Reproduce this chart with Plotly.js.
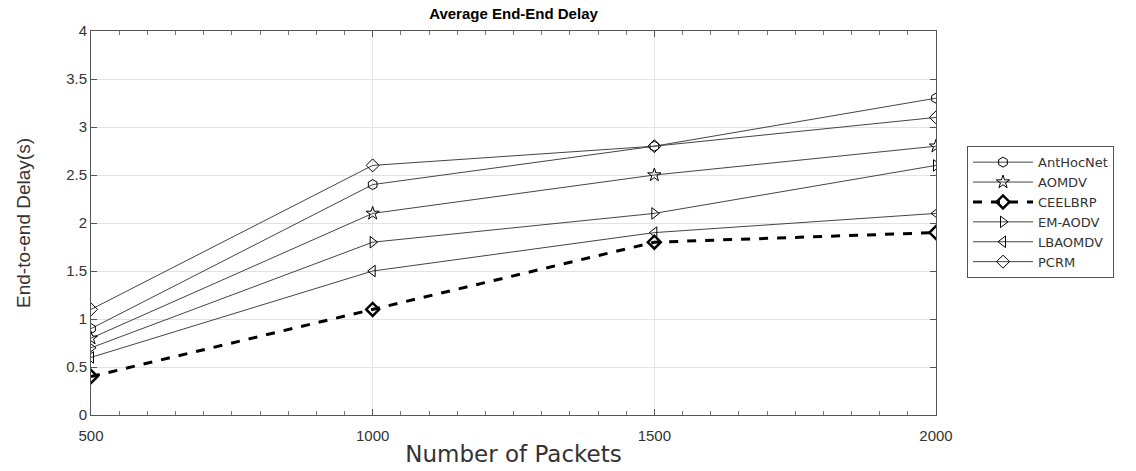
<!DOCTYPE html>
<html><head><meta charset="utf-8">
<script src="https://cdn.plot.ly/plotly-3.0.1.min.js"></script>
<style>body{margin:0;background:#fff}#c{width:1136px;height:471px}</style>
</head><body><div id="c"></div>
<script>
const packets = [500, 1000, 1500, 2000];
const seriesNames = ["AntHocNet", "AOMDV", "CEELBRP", "EM-AODV", "LBAOMDV", "PCRM"];
const antHocNet = [0.9, 2.4, 2.8, 3.3];
const aomdv = [0.8, 2.1, 2.5, 2.8];
const ceelbrp = [0.4, 1.1, 1.8, 1.9];
const emAodv = [0.7, 1.8, 2.1, 2.6];
const lbaomdv = [0.6, 1.5, 1.9, 2.1];
const pcrm = [1.1, 2.6, 2.8, 3.1];
const xTicks = [500, 1000, 1500, 2000];
const yTicks = [0, 0.5, 1, 1.5, 2, 2.5, 3, 3.5, 4];

const values = [antHocNet, aomdv, ceelbrp, emAodv, lbaomdv, pcrm];
const symbols = ["hexagon-open", "star-open", "diamond-open", "triangle-right-open", "triangle-left-open", "diamond-open"];
const traces = values.map((v, i) => {
  const bold = seriesNames[i] === "CEELBRP";
  return {
    x: packets, y: v, name: seriesNames[i], type: "scatter", mode: "lines+markers",
    line: {color: bold ? "#000" : "#444", width: bold ? 3 : 1, dash: bold ? "dash" : "solid"},
    marker: {symbol: symbols[i], size: 10, color: "#000", line: {color: "#000", width: bold ? 2.5 : 1}}
  };
});

const layout = {
  width: 1136, height: 471,
  margin: {l: 91, r: 200, t: 31, b: 56},
  paper_bgcolor: "#fff", plot_bgcolor: "#fff",
  font: {family: "Liberation Sans, Arial, sans-serif", color: "#333"},
  title: {text: "<b>Average End-End Delay</b>", font: {size: 15, color: "#000", family: "Liberation Sans, Arial, sans-serif"}, x: 0.5, xref: "paper", xanchor: "center", y: 0.97, yanchor: "middle"},
  xaxis: {
    range: [500, 2000], tickvals: xTicks, ticktext: xTicks.map(String),
    showgrid: true, gridcolor: "#e3e3e3", gridwidth: 1,
    showline: true, linecolor: "#555", linewidth: 1, mirror: "ticks",
    ticks: "inside", ticklen: 6, tickcolor: "#555", ticklabelstandoff: 7,
    minor: {ticks: "inside", dtick: 50, ticklen: 4, tickcolor: "#777", showgrid: false},
    tickfont: {size: 15, color: "#333"}, zeroline: false,
    title: {text: "Number of Packets", font: {size: 23, color: "#333", family: "DejaVu Sans, sans-serif"}, standoff: 2}
  },
  yaxis: {
    range: [0, 4], tickvals: yTicks, ticktext: yTicks.map(String),
    showgrid: true, gridcolor: "#e3e3e3", gridwidth: 1,
    showline: true, linecolor: "#555", linewidth: 1, mirror: "ticks",
    ticks: "inside", ticklen: 6, tickcolor: "#555",
    tickfont: {size: 15, color: "#333"}, zeroline: false,
    title: {text: "End-to-end Delay(s)", font: {size: 19, color: "#333"}, standoff: 30}
  },
  showlegend: true,
  legend: {
    xref: "paper", y: 0.70, yanchor: "top", xanchor: "left",
    bordercolor: "#555", borderwidth: 1, bgcolor: "#fff",
    font: {size: 13, color: "#333", family: "DejaVu Sans, sans-serif"}, itemwidth: 60, tracegroupgap: 0
  }
};
layout.legend.x = (967 - 91) / (1136 - 91 - 200);
Plotly.newPlot("c", traces, layout, {displayModeBar: false, staticPlot: true});
</script></body></html>
